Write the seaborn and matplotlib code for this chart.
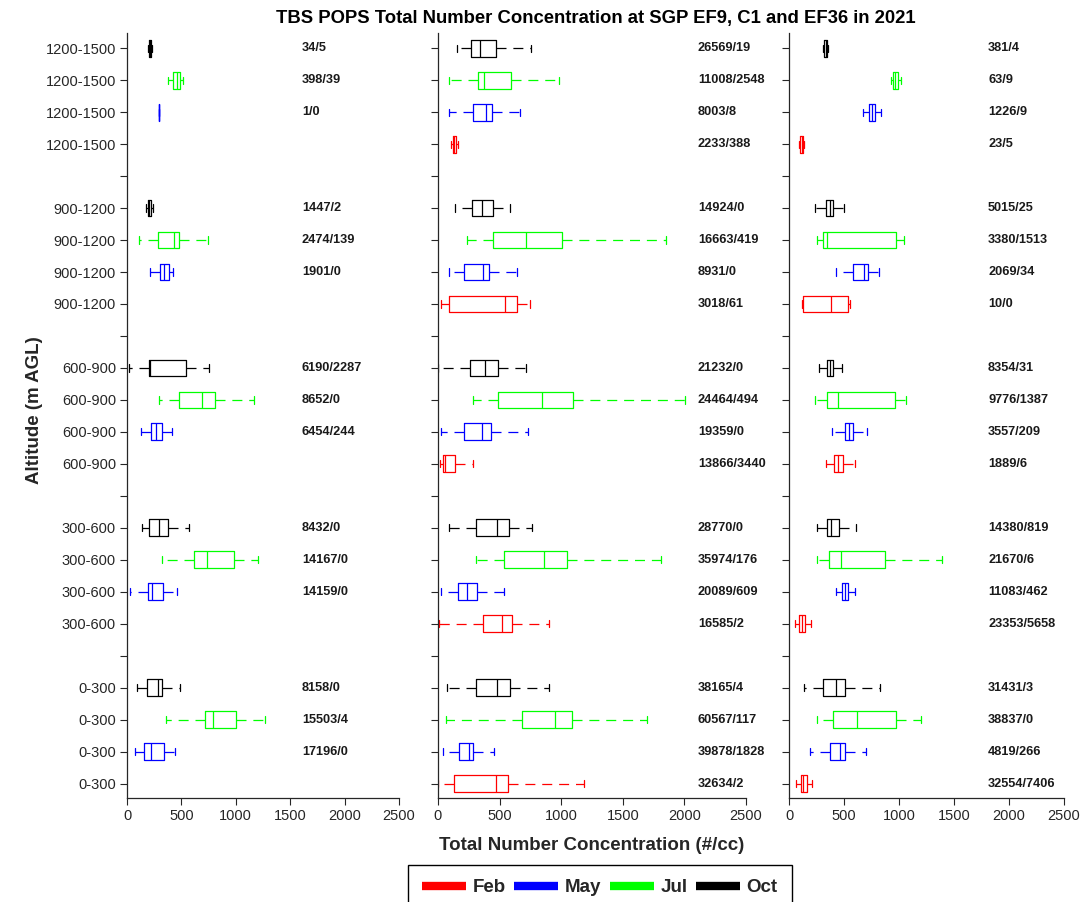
import numpy as np
import pandas as pd
import matplotlib
matplotlib.use("Agg")
import matplotlib.pyplot as plt
import matplotlib.transforms as mtransforms
from matplotlib.lines import Line2D
import seaborn as sns

# ---------------- data ----------------
ALTITUDES = ["1200-1500", "900-1200", "600-900", "300-600", "0-300"]
MONTHS = ["Oct", "Jul", "May", "Feb"]          # order inside each altitude block (top -> bottom)
LEGEND_MONTHS = ["Feb", "May", "Jul", "Oct"]
SITES = ["EF9", "C1", "EF36"]

# five-number summaries [low whisker, Q1, median, Q3, high whisker], one per altitude (top -> bottom)
EF9_OCT = [[195, 203, 210, 217, 228], [175, 190, 205, 222, 236], [21, 199, 211, 542, 754],
           [138, 205, 294, 380, 573], [89, 187, 288, 318, 487]]
EF9_JUL = [[380, 426, 456, 487, 512], [113, 288, 432, 481, 747], [294, 478, 689, 806, 1167],
           [322, 616, 738, 983, 1201], [355, 717, 793, 1002, 1268]]
EF9_MAY = [[291, 291, 291, 291, 291], [211, 306, 343, 386, 420], [132, 224, 267, 318, 410],
           [31, 190, 230, 334, 456], [70, 156, 221, 343, 441]]
EF9_FEB = [None, None, None, None, None]

C1_OCT = [[152, 265, 341, 469, 753], [141, 276, 360, 444, 585], [3, 260, 385, 485, 715],
          [92, 306, 482, 574, 766], [70, 309, 479, 585, 902]]
C1_JUL = [[92, 328, 374, 596, 986], [236, 450, 718, 1005, 1847], [287, 490, 845, 1099, 2001],
          [309, 534, 859, 1051, 1812], [65, 680, 951, 1091, 1696]]
C1_MAY = [[87, 287, 387, 439, 666], [92, 209, 363, 412, 639], [27, 209, 355, 433, 731],
          [22, 160, 233, 317, 536], [43, 173, 254, 287, 458]]
C1_FEB = [[106, 118, 133, 150, 165], [27, 92, 545, 639, 748], [16, 38, 57, 141, 282],
          [5, 363, 523, 601, 905], [3, 130, 471, 571, 1186]]

EF36_OCT = [[312, 322, 333, 343, 351], [239, 336, 372, 402, 499], [275, 348, 372, 402, 478],
            [251, 342, 381, 451, 608], [139, 306, 427, 511, 826]]
EF36_JUL = [[923, 947, 965, 987, 1014], [254, 306, 342, 972, 1047], [239, 342, 448, 962, 1068],
            [251, 366, 472, 872, 1395], [251, 402, 614, 972, 1199]]
EF36_MAY = [[672, 723, 751, 781, 832], [424, 581, 678, 717, 817], [393, 508, 545, 584, 705],
            [424, 484, 508, 533, 599], [191, 372, 463, 508, 699]]
EF36_FEB = [[91, 100, 115, 128, 139], [115, 125, 378, 540, 554], [339, 411, 448, 487, 599],
            [54, 91, 118, 145, 200], [61, 106, 130, 160, 212]]

# sample counts "n/outliers", altitude-major, months Oct, Jul, May, Feb
EF9_COUNTS = ["34/5", "398/39", "1/0", "",
              "1447/2", "2474/139", "1901/0", "",
              "6190/2287", "8652/0", "6454/244", "",
              "8432/0", "14167/0", "14159/0", "",
              "8158/0", "15503/4", "17196/0", ""]
C1_COUNTS = ["26569/19", "11008/2548", "8003/8", "2233/388",
             "14924/0", "16663/419", "8931/0", "3018/61",
             "21232/0", "24464/494", "19359/0", "13866/3440",
             "28770/0", "35974/176", "20089/609", "16585/2",
             "38165/4", "60567/117", "39878/1828", "32634/2"]
EF36_COUNTS = ["381/4", "63/9", "1226/9", "23/5",
               "5015/25", "3380/1513", "2069/34", "10/0",
               "8354/31", "9776/1387", "3557/209", "1889/6",
               "14380/819", "21670/6", "11083/462", "23353/5658",
               "31431/3", "38837/0", "4819/266", "32554/7406"]

X_TICKS = [0, 500, 1000, 1500, 2000, 2500]

SUMMARIES = {
    "EF9": {"Oct": EF9_OCT, "Jul": EF9_JUL, "May": EF9_MAY, "Feb": EF9_FEB},
    "C1": {"Oct": C1_OCT, "Jul": C1_JUL, "May": C1_MAY, "Feb": C1_FEB},
    "EF36": {"Oct": EF36_OCT, "Jul": EF36_JUL, "May": EF36_MAY, "Feb": EF36_FEB},
}
COUNTS = {"EF9": EF9_COUNTS, "C1": C1_COUNTS, "EF36": EF36_COUNTS}

# ---------------- style ----------------
sns.set_theme(style="ticks")
plt.rcParams["font.family"] = ["Liberation Sans", "DejaVu Sans"]
AX_COLOR = "#262626"
PALETTE = {"Feb": "#ff0000", "May": "#0000ff", "Jul": "#00ff00", "Oct": "#000000"}

W, H = 1081, 902
fig = plt.figure(figsize=(W / 100, H / 100), dpi=100)

# panel pixel extents (left, right)
PANELS = [(127, 399), (438, 746), (789, 1064)]
TOP, BOTTOM = 33, 798
TEXT_X = [0.643, 0.844, 0.724]     # axes-fraction x for count labels

n_rows = len(ALTITUDES) * (len(MONTHS) + 1) - 1
positions = list(range(1, n_rows + 1))
tick_labels = []
for a in ALTITUDES:
    tick_labels += [a] * len(MONTHS) + [""]
tick_labels = tick_labels[:n_rows]

for k, site in enumerate(SITES):
    l, r = PANELS[k]
    ax = fig.add_axes([l / W, 1 - BOTTOM / H, (r - l) / W, (BOTTOM - TOP) / H])
    rows = []
    for ai, alt in enumerate(ALTITUDES):
        for mi, m in enumerate(MONTHS):
            s = SUMMARIES[site][m][ai]
            if s is None:
                continue
            pos = ai * (len(MONTHS) + 1) + mi + 1
            for v in s:
                rows.append({"value": v, "pos": pos, "month": m})
    df = pd.DataFrame(rows)
    sns.boxplot(data=df, x="value", y="pos", hue="month", hue_order=LEGEND_MONTHS,
                orient="y", native_scale=True, dodge=False, fill=False,
                width=0.53, whis=(0, 100), palette=PALETTE, linewidth=0.9,
                showfliers=False, capwidths=0.22,
                whiskerprops=dict(linestyle=(0, (8, 5.5))),
                legend=False, ax=ax)
    ax.set_xlim(0, 2500)
    ax.set_ylim(n_rows + 0.44, 0.53)
    ax.set_xticks(X_TICKS)
    ax.set_xticklabels([str(t) for t in X_TICKS])
    ax.set_yticks(positions)
    if k == 0:
        ax.set_yticklabels(tick_labels)
    else:
        ax.set_yticklabels([])
    ax.set_xlabel("")
    ax.set_ylabel("")
    for sp in ["top", "right"]:
        ax.spines[sp].set_visible(False)
    for sp in ["left", "bottom"]:
        ax.spines[sp].set_color(AX_COLOR)
        ax.spines[sp].set_linewidth(0.9)
    ax.tick_params(axis="both", direction="out", length=5, width=0.8, color=AX_COLOR,
                   labelcolor=AX_COLOR, labelsize=10.5, pad=3)
    trans = mtransforms.blended_transform_factory(ax.transAxes, ax.transData)
    for i, txt in enumerate(COUNTS[site]):
        if txt:
            ai, mi = divmod(i, len(MONTHS))
            pos = ai * (len(MONTHS) + 1) + mi + 1
            ax.text(TEXT_X[k], pos, txt, transform=trans, ha="left", va="center",
                    fontsize=9.2, fontweight="bold", color="#1a1a1a")

fig.text(596 / W, 1 - 18 / H, "TBS POPS Total Number Concentration at SGP EF9, C1 and EF36 in 2021",
         ha="center", va="center", fontsize=13.3, fontweight="bold", color="black")
fig.text(592 / W, 1 - 845 / H, "Total Number Concentration (#/cc)", ha="center", va="center",
         fontsize=13.5, fontweight="bold", color=AX_COLOR)
fig.text(35 / W, 1 - 410 / H, "Altitude (m AGL)", ha="center", va="center", rotation=90,
         fontsize=13.5, fontweight="bold", color=AX_COLOR)

handles = [Line2D([0], [0], color=PALETTE[m], lw=6, solid_capstyle="butt") for m in LEGEND_MONTHS]
leg = fig.legend(handles, LEGEND_MONTHS, loc="upper center", bbox_to_anchor=(600 / W, 1 - 865 / H),
                 ncol=4, frameon=True, fancybox=False, edgecolor="black", framealpha=1,
                 prop=dict(weight="bold", size=13.5), handlelength=2.35, columnspacing=0.45,
                 handletextpad=0.35, borderpad=0.75, borderaxespad=0)
leg.get_frame().set_linewidth(1.0)

fig.savefig("out.png", dpi=100)
